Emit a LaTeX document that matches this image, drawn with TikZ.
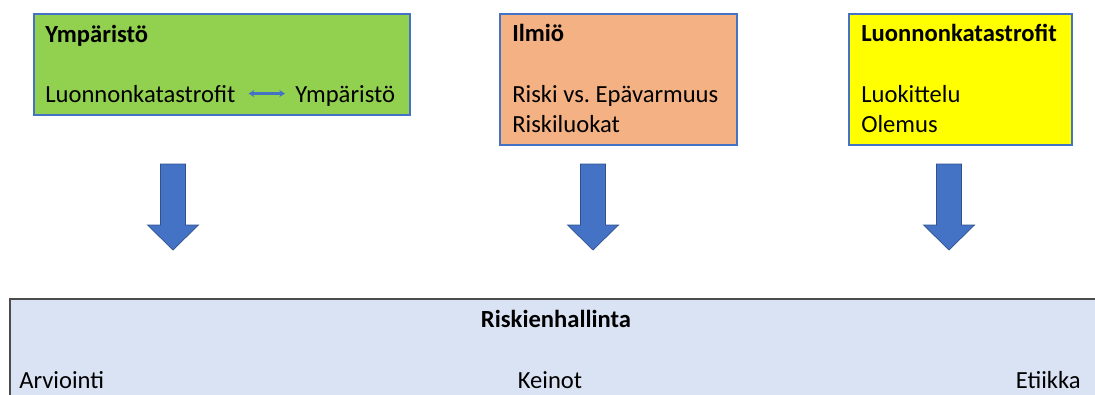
\documentclass[tikz,border=0pt]{standalone}
\usepackage{fontspec}
\setmainfont{Carlito}
\usepackage{xcolor}
\usetikzlibrary{arrows.meta}
\frenchspacing

\definecolor{envgreen}{HTML}{92D050}
\definecolor{phenorange}{HTML}{F4B183}
\definecolor{catyellow}{HTML}{FFFF00}
\definecolor{mgmtblue}{HTML}{DAE3F3}
\definecolor{officeblue}{HTML}{4472C4}
\definecolor{darkblue}{HTML}{2F528F}

\begin{document}
\begin{tikzpicture}[x=0.025cm, y=-0.025cm,
    box/.style={draw=officeblue, line width=0.8pt, inner sep=0pt},
    txt/.style={inner sep=0pt, font=\fontsize{17.5}{21}\selectfont},
    ttl/.style={txt, font=\fontsize{17.5}{21}\selectfont\bfseries},
    blockarrow/.style={fill=officeblue, draw=darkblue, line width=0.5pt}]

\useasboundingbox (0,0) rectangle (1095,394);
\clip (0,0) rectangle (1095,394);

\node [box, fill=envgreen, minimum width=9.4cm, minimum height=2.525cm] (env) at (222,64.5) {};
\node [box, fill=phenorange, minimum width=5.925cm, minimum height=3.275cm] (phen) at (618.5,79.5) {};
\node [box, fill=catyellow, minimum width=5.575cm, minimum height=3.275cm] (cat) at (960.5,79.5) {};
\node [draw=black!70, line width=1.2pt, fill=mgmtblue, inner sep=0pt, minimum width=27.5cm, minimum height=3.025cm] (mgmt) at (560,359.5) {};

\node [ttl, anchor=base west] (envtitle) at (45,43) {Ympäristö};
\node [txt, anchor=base west] (envleft) at (45,102) {Luonnonkatastrofit};
\node [txt, anchor=base west] (envright) at (295,102) {Ympäristö};
\draw [officeblue, line width=1.5pt, {Stealth[length=4pt,width=5pt]}-{Stealth[length=4pt,width=5pt]}]
    ([xshift=0.325cm]envleft.east) -- ([xshift=-0.25cm]envleft.east -| envright.west);

\node [ttl, anchor=base west] (phentitle) at (512,42) {Ilmiö};
\node [txt, anchor=base west] (phenone) at (512,102) {Riski vs. Epävarmuus};
\node [txt, anchor=base west] (phentwo) at (512,132) {Riskiluokat};

\node [ttl, anchor=base west] (cattitle) at (861,42) {Luonnonkatastrofit};
\node [txt, anchor=base west] (catone) at (861,102) {Luokittelu};
\node [txt, anchor=base west] (cattwo) at (861,132) {Olemus};

\foreach \x in {173,593,949}
    \filldraw [blockarrow] (\x-12.5,164) -- (\x+12.5,164) -- (\x+12.5,225) -- (\x+25.5,225)
        -- (\x,250) -- (\x-25.5,225) -- (\x-12.5,225) -- cycle;

\node [ttl, anchor=base] (mgmttitle) at (556,327) {Riskienhallinta};
\node [txt, anchor=base west] (assess) at (19,388) {Arviointi};
\node [txt, anchor=base] (means) at (550,388) {Keinot};
\node [txt, anchor=base east] (ethics) at (1081,388) {Etiikka};

\end{tikzpicture}
\end{document}
